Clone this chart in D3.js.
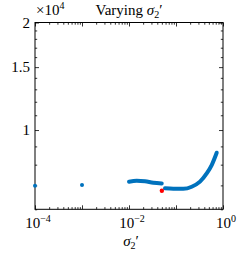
<!DOCTYPE html>
<html>
<head>
<meta charset="utf-8">
<script src="https://cdn.jsdelivr.net/npm/d3@7"></script>
<style>
  body { margin: 0; background: #fff; }
  text { font-family: "Liberation Serif", serif; fill: #000; }
</style>
</head>
<body>
<svg width="249" height="253"></svg>
<script>
// single runs (sigma2', value)
var singleX = [1e-4, 1e-3];
var singleY = [6980, 7020];

// first branch
var leftX = [0.0100, 0.0146, 0.0219, 0.0329, 0.0497];
var leftY = [7170, 7210, 7185, 7120, 7090];

// second branch
var rightX = [0.0583, 0.0877, 0.143, 0.216, 0.324, 0.450, 0.575, 0.735];
var rightY = [6870, 6850, 6850, 6940, 7170, 7560, 7980, 8640];

// highlighted point
var redX = [0.05];
var redY = [6760];

var xTicks = [1e-4, 1e-2, 1];
var yTicks = [10000, 15000, 20000];
var yTickLabels = ['1', '1.5', '2'];

var svg = d3.select('svg');
var mLeft = 35, mRight = 223, mTop = 22.5, mBottom = 209.3;
var blue = '#0072BD';

var x = d3.scaleLog().domain([1e-4, 1]).range([mLeft, mRight]);
var y = d3.scaleLog().domain([6000, 20000]).range([mBottom, mTop]);

// minor ticks
var xMinor = [];
for (var e = -4; e < 0; e++) {
    for (var k = 2; k <= 9; k++) xMinor.push(k * Math.pow(10, e));
}
var xMajor = [1e-4, 1e-3, 1e-2, 1e-1, 1];
var yMinor = [];
for (var v = 6000; v <= 20000; v += 1000) {
    if (yTicks.indexOf(v) < 0) yMinor.push(v);
}

function axis(gen, tr, ticks, size) {
    svg.append('g')
        .attr('transform', tr)
        .call(gen.tickValues(ticks).tickSize(size).tickFormat(''))
        .call(function(g) { g.select('.domain').remove(); })
        .selectAll('line').attr('stroke', '#000').attr('stroke-width', 0.8);
}

axis(d3.axisTop(x), 'translate(0,' + mBottom + ')', xMinor, 2.2);
axis(d3.axisTop(x), 'translate(0,' + mBottom + ')', xMajor, 4);
axis(d3.axisBottom(x), 'translate(0,' + mTop + ')', xMinor, 2.2);
axis(d3.axisBottom(x), 'translate(0,' + mTop + ')', xMajor, 4);
axis(d3.axisRight(y), 'translate(' + mLeft + ',0)', yMinor, 2.2);
axis(d3.axisRight(y), 'translate(' + mLeft + ',0)', yTicks, 4);
axis(d3.axisLeft(y), 'translate(' + mRight + ',0)', yMinor, 2.2);
axis(d3.axisLeft(y), 'translate(' + mRight + ',0)', yTicks, 4);

svg.append('rect')
    .attr('x', mLeft).attr('y', mTop)
    .attr('width', mRight - mLeft).attr('height', mBottom - mTop)
    .attr('fill', 'none').attr('stroke', '#000').attr('stroke-width', 1);

// tick labels
svg.selectAll('.ylab')
    .data(yTicks)
    .enter().append('text')
    .attr('class', 'ylab')
    .attr('x', mLeft - 5)
    .attr('y', function(d) { return y(d) + 5; })
    .attr('text-anchor', 'end')
    .attr('font-size', 15)
    .text(function(d, i) { return yTickLabels[i]; });

var xl = svg.selectAll('.xlab')
    .data(xTicks)
    .enter().append('text')
    .attr('class', 'xlab')
    .attr('x', function(d) { return x(d) + 3; })
    .attr('y', 228)
    .attr('text-anchor', 'middle')
    .attr('font-size', 15);
xl.append('tspan').text('10');
xl.append('tspan')
    .attr('dy', -6).attr('font-size', 10)
    .text(function(d) { var p = Math.round(Math.log10(d)); return p < 0 ? '\u2212' + (-p) : p; });

// exponent marker
var ex = svg.append('text').attr('x', 36).attr('y', 15).attr('font-size', 15);
ex.append('tspan').text('\u00d710');
ex.append('tspan').attr('dy', -6).attr('font-size', 10).text('4');

// title
var t = svg.append('text')
    .attr('x', (mLeft + mRight) / 2).attr('y', 15)
    .attr('text-anchor', 'middle').attr('font-size', 15);
t.append('tspan').text('Varying ');
t.append('tspan').attr('font-style', 'italic').text('\u03c3');
t.append('tspan').attr('dy', 3).attr('font-size', 10).text('2');
t.append('tspan').attr('dy', -3).text('\u2032');

// x label
var xt = svg.append('text')
    .attr('x', 131).attr('y', 246)
    .attr('text-anchor', 'middle').attr('font-size', 15);
xt.append('tspan').attr('font-style', 'italic').text('\u03c3');
xt.append('tspan').attr('dy', 3).attr('font-size', 10).text('2');
xt.append('tspan').attr('dy', -3).text('\u2032');

// data
var line = d3.line()
    .x(function(d) { return x(d[0]); })
    .y(function(d) { return y(d[1]); })
    .curve(d3.curveMonotoneX);

[[leftX, leftY], [rightX, rightY]].forEach(function(s) {
    svg.append('path')
        .datum(d3.zip(s[0], s[1]))
        .attr('d', line)
        .attr('fill', 'none')
        .attr('stroke', blue)
        .attr('stroke-width', 4)
        .attr('stroke-linecap', 'round')
        .attr('stroke-linejoin', 'round');
});

svg.selectAll('.single')
    .data(d3.zip(singleX, singleY))
    .enter().append('circle')
    .attr('class', 'single')
    .attr('cx', function(d) { return x(d[0]); })
    .attr('cy', function(d) { return y(d[1]); })
    .attr('r', 2)
    .attr('fill', blue);

svg.selectAll('.red')
    .data(d3.zip(redX, redY))
    .enter().append('circle')
    .attr('class', 'red')
    .attr('cx', function(d) { return x(d[0]); })
    .attr('cy', function(d) { return y(d[1]); })
    .attr('r', 2.2)
    .attr('fill', '#ff0000');
</script>
</body>
</html>
